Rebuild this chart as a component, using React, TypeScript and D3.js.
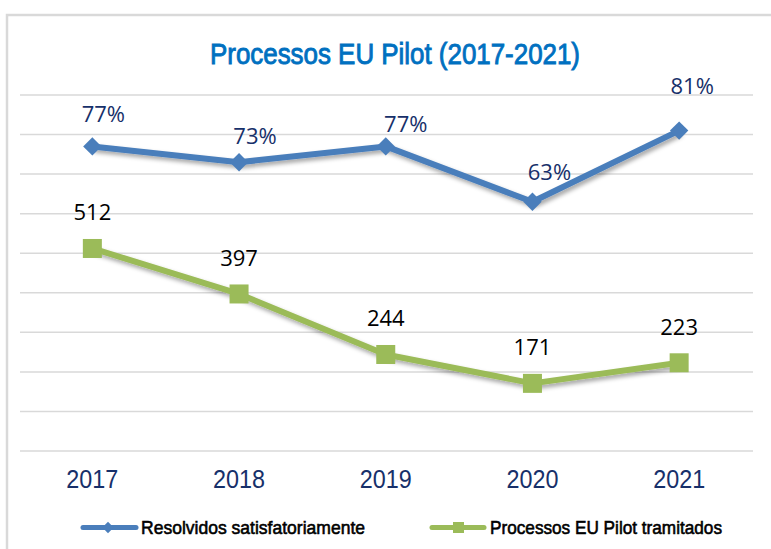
import React from "react";
import * as d3 from "d3";

const years = ["2017", "2018", "2019", "2020", "2021"];
const resolvidos = [0.77, 0.73, 0.77, 0.63, 0.81];
const resolvidosLabels = ["77%", "73%", "77%", "63%", "81%"];
const tramitados = [512, 397, 244, 171, 223];
const tramitadosLabels = ["512", "397", "244", "171", "223"];
const seriesNames = ["Resolvidos satisfatoriamente", "Processos EU Pilot tramitados"];
const title = "Processos EU Pilot (2017-2021)";

// manual label offsets (Excel-placed labels) for the percentage series
const pctLabelDx = [11, 16, 20, 17, 13];
const pctLabelDy = [-24, -18, -14, -22, -37];

const W = 771;
const H = 549;
const BLUE = "#4A7EBB";
const GREEN = "#9BBB59";
const NAVY = "#17306A";

export default function App() {
  const x = d3.scaleBand<string>().domain(years).range([19, 752.5]).padding(0);
  const cx = (d: string) => (x(d) as number) + x.bandwidth() / 2;
  const yLeft = d3.scaleLinear().domain([0, 900]).range([451, 95]);
  const yRight = d3.scaleLinear().domain([0, 0.9]).range([451, 95]);
  const grid = yLeft.ticks(9);

  const blueLine = d3
    .line<number>()
    .x((_, i) => cx(years[i]))
    .y((v) => yRight(v));
  const greenLine = d3
    .line<number>()
    .x((_, i) => cx(years[i]))
    .y((v) => yLeft(v));

  return (
    <svg
      width={W}
      height={H}
      style={{ position: "absolute", left: 0, top: 0, background: "#fff" }}
    >
      <defs>
        <filter id="sh" x="-10%" y="-20%" width="120%" height="150%">
          <feDropShadow dx="2" dy="3" stdDeviation="2" floodColor="#000" floodOpacity="0.35" />
        </filter>
      </defs>
      {/* chart border */}
      <path d={`M7,${H} L7,15 L${W},15`} fill="none" stroke="#D9D9D9" strokeWidth={2.5} />

      {/* title */}
      <text
        x={395}
        y={64}
        textAnchor="middle"
        fill="#0070C0"
        stroke="#0070C0"
        strokeWidth={0.9}
        fontFamily="'Liberation Sans Narrow', 'Liberation Sans', Arial, sans-serif"
        fontSize={29}
        textLength={370}
        lengthAdjust="spacingAndGlyphs"
      >
        {title}
      </text>

      {/* gridlines */}
      {grid.map((g) => (
        <line
          key={g}
          x1={20}
          x2={753}
          y1={yLeft(g)}
          y2={yLeft(g)}
          stroke="#D9D9D9"
          strokeWidth={1.5}
        />
      ))}

      {/* x labels */}
      {years.map((yr) => (
        <text
          key={yr}
          x={cx(yr)}
          y={488}
          textAnchor="middle"
          fill={NAVY}
          fontFamily="'Liberation Sans', Arial, sans-serif"
          fontSize={25}
          textLength={52}
          lengthAdjust="spacingAndGlyphs"
        >
          {yr}
        </text>
      ))}

      {/* blue series */}
      <path
        d={blueLine(resolvidos) || ""}
        fill="none"
        stroke={BLUE}
        strokeWidth={6}
        strokeLinejoin="round"
        filter="url(#sh)"
      />
      {resolvidos.map((v, i) => (
        <rect
          key={i}
          x={cx(years[i]) - 6.5}
          y={yRight(v) - 6.5}
          width={13}
          height={13}
          fill={BLUE}
          transform={`rotate(45 ${cx(years[i])} ${yRight(v)})`}
        />
      ))}
      {resolvidos.map((v, i) => (
        <text
          key={i}
          x={cx(years[i]) + pctLabelDx[i]}
          y={yRight(v) + pctLabelDy[i]}
          textAnchor="middle"
          fill={NAVY}
          fontFamily="'Open Sans', sans-serif"
          fontSize={22}
        >
          {resolvidosLabels[i]}
        </text>
      ))}

      {/* green series */}
      <path
        d={greenLine(tramitados) || ""}
        fill="none"
        stroke={GREEN}
        strokeWidth={6}
        strokeLinejoin="round"
        filter="url(#sh)"
      />
      {tramitados.map((v, i) => (
        <rect
          key={i}
          x={cx(years[i]) - 9.5}
          y={yLeft(v) - 9.5}
          width={19}
          height={19}
          fill={GREEN}
        />
      ))}
      {tramitados.map((v, i) => (
        <text
          key={i}
          x={cx(years[i])}
          y={yLeft(v) - 28}
          textAnchor="middle"
          fill="#000"
          fontFamily="'Open Sans', sans-serif"
          fontSize={22}
        >
          {tramitadosLabels[i]}
        </text>
      ))}

      {/* legend */}
      <g>
        <line x1={83} x2={136} y1={527.5} y2={527.5} stroke={BLUE} strokeWidth={5} strokeLinecap="round" />
        <rect x={104} y={523.5} width={8} height={8} fill={BLUE} transform="rotate(45 108 527.5)" />
        <text
          x={141}
          y={534}
          fill="#000"
          stroke="#000"
          strokeWidth={0.6}
          fontFamily="'Liberation Sans Narrow', 'Liberation Sans', Arial, sans-serif"
          fontSize={19}
          textLength={224}
          lengthAdjust="spacingAndGlyphs"
        >
          {seriesNames[0]}
        </text>
        <line x1={432} x2={484} y1={527.5} y2={527.5} stroke={GREEN} strokeWidth={5} strokeLinecap="round" />
        <rect x={453} y={522} width={11} height={11} fill={GREEN} />
        <text
          x={490}
          y={534}
          fill="#000"
          stroke="#000"
          strokeWidth={0.6}
          fontFamily="'Liberation Sans Narrow', 'Liberation Sans', Arial, sans-serif"
          fontSize={19}
          textLength={232}
          lengthAdjust="spacingAndGlyphs"
        >
          {seriesNames[1]}
        </text>
      </g>
    </svg>
  );
}
